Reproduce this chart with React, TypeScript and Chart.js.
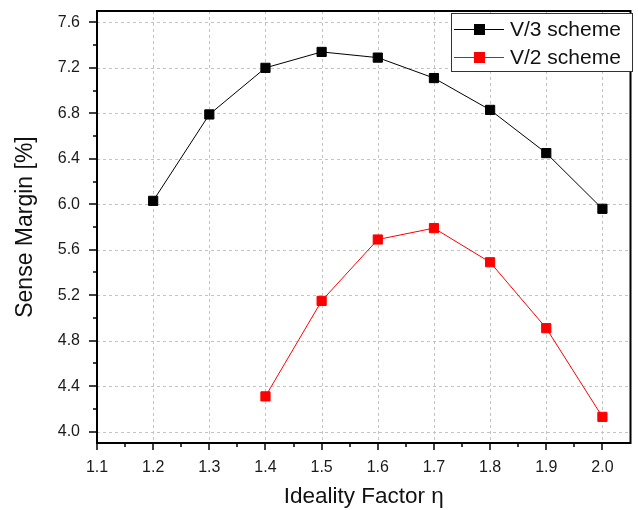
import React, { useEffect, useRef } from 'react';
import Chart from 'chart.js/auto';

const etaValues = [1.2, 1.3, 1.4, 1.5, 1.6, 1.7, 1.8, 1.9, 2.0];
const v3SchemeValues = [6.03, 6.79, 7.2, 7.34, 7.29, 7.11, 6.83, 6.45, 5.96];
const v2SchemeValues = [null, null, 4.31, 5.15, 5.69, 5.79, 5.49, 4.91, 4.13];
const seriesLabels = ['V/3 scheme', 'V/2 scheme'];
const seriesColors = ['#000000', '#ff0000'];
const xTickValues = [1.1, 1.2, 1.3, 1.4, 1.5, 1.6, 1.7, 1.8, 1.9, 2.0];
const yTickValues = [4.0, 4.4, 4.8, 5.2, 5.6, 6.0, 6.4, 6.8, 7.2, 7.6];
const xMinorValues = [1.15, 1.25, 1.35, 1.45, 1.55, 1.65, 1.75, 1.85, 1.95];
const yMinorValues = [4.2, 4.6, 5.0, 5.4, 5.8, 6.2, 6.6, 7.0, 7.4];

const FONT = 'Arial, "Liberation Sans", sans-serif';

const framePlugin = {
  id: 'frame',
  beforeDatasetsDraw(chart: any) {
    const { ctx, chartArea: a, scales } = chart;
    ctx.save();
    ctx.strokeStyle = '#c4c4c4';
    ctx.lineWidth = 1;
    ctx.setLineDash([3, 3]);
    xTickValues.forEach((v) => {
      const px = Math.round(scales.x.getPixelForValue(v)) + 0.5;
      if (px <= a.left + 1) return;
      ctx.beginPath();
      ctx.moveTo(px, a.top);
      ctx.lineTo(px, a.bottom);
      ctx.stroke();
    });
    yTickValues.forEach((v) => {
      const py = Math.round(scales.y.getPixelForValue(v)) + 0.5;
      ctx.beginPath();
      ctx.moveTo(a.left, py);
      ctx.lineTo(a.right, py);
      ctx.stroke();
    });
    ctx.restore();
  },
  afterDatasetsDraw(chart: any) {
    const { ctx, chartArea: a, scales } = chart;
    ctx.save();
    ctx.setLineDash([]);
    ctx.strokeStyle = '#000';
    ctx.lineWidth = 2;
    ctx.strokeRect(a.left, a.top, a.right - a.left, a.bottom - a.top);
    ctx.lineWidth = 1.5;
    const tickX = (v: number, len: number) => {
      const px = Math.round(scales.x.getPixelForValue(v));
      ctx.beginPath();
      ctx.moveTo(px, a.bottom);
      ctx.lineTo(px, a.bottom + len);
      ctx.stroke();
    };
    const tickY = (v: number, len: number) => {
      const py = Math.round(scales.y.getPixelForValue(v));
      ctx.beginPath();
      ctx.moveTo(a.left, py);
      ctx.lineTo(a.left - len, py);
      ctx.stroke();
    };
    xTickValues.forEach((v) => tickX(v, 7));
    xMinorValues.forEach((v) => tickX(v, 4));
    yTickValues.forEach((v) => tickY(v, 8));
    yMinorValues.forEach((v) => tickY(v, 4));

    // legend
    const bx = 451, by = 13, bw = 181, bh = 58;
    ctx.fillStyle = '#ffffff';
    ctx.fillRect(bx, by, bw, bh);
    ctx.strokeStyle = '#333';
    ctx.lineWidth = 1;
    ctx.strokeRect(bx + 0.5, by + 0.5, bw, bh);
    ctx.font = `21px ${FONT}`;
    ctx.textBaseline = 'middle';
    ctx.textAlign = 'left';
    chart.data.datasets.forEach((ds: any, i: number) => {
      const cy = by + 16 + i * 28;
      ctx.strokeStyle = ds.borderColor;
      ctx.lineWidth = 1;
      ctx.beginPath();
      ctx.moveTo(bx + 3, cy + 0.5);
      ctx.lineTo(bx + 53, cy + 0.5);
      ctx.stroke();
      ctx.fillStyle = ds.backgroundColor;
      ctx.fillRect(bx + 23, cy - 5, 11, 11);
      ctx.fillStyle = '#111';
      ctx.fillText(ds.label, bx + 59, cy + 1);
    });
    ctx.restore();
  },
};

export default function App() {
  const ref = useRef<HTMLCanvasElement | null>(null);
  useEffect(() => {
    document.body.style.margin = '0';
    const canvas = ref.current;
    if (!canvas) return;
    const mk = (vals: (number | null)[], i: number) => ({
      label: seriesLabels[i],
      data: etaValues.map((x, k) => ({ x, y: vals[k] })),
      borderColor: seriesColors[i],
      backgroundColor: seriesColors[i],
      pointBackgroundColor: seriesColors[i],
      pointBorderColor: seriesColors[i],
      borderWidth: 1,
      pointStyle: 'rect',
      pointRadius: 6.5,
      pointBorderWidth: 1,
      tension: 0,
      spanGaps: false,
    });
    const chart = new Chart(canvas, {
      type: 'line',
      data: { datasets: [mk(v3SchemeValues, 0), mk(v2SchemeValues, 1)] as any },
      options: {
        animation: false,
        responsive: true,
        maintainAspectRatio: false,
        layout: { padding: { top: 11, right: 5, left: 12, bottom: 0 } },
        plugins: { legend: { display: false }, tooltip: { enabled: false } },
        scales: {
          x: {
            type: 'linear',
            min: 1.1,
            max: 2.05,
            afterBuildTicks: (s: any) => {
              s.ticks = xTickValues.map((v) => ({ value: v }));
            },
            afterFit: (s: any) => {
              s.height = 67;
              s.paddingLeft = 0;
              s.paddingRight = 0;
            },
            grid: { display: false, drawTicks: false },
            border: { display: false },
            ticks: {
              autoSkip: false,
              maxRotation: 0,
              padding: 15,
              color: '#1a1a1a',
              font: { family: FONT, size: 16 },
              callback: (v: any) => Number(v).toFixed(1),
            },
            title: {
              display: true,
              text: 'Ideality Factor η',
              color: '#111',
              font: { family: FONT, size: 22.5 },
              padding: 0,
            },
          },
          y: {
            type: 'linear',
            min: 3.9,
            max: 7.7,
            afterBuildTicks: (s: any) => {
              s.ticks = yTickValues.map((v) => ({ value: v }));
            },
            afterFit: (s: any) => {
              s.width = 85;
              s.paddingTop = 0;
              s.paddingBottom = 0;
            },
            grid: { display: false, drawTicks: false },
            border: { display: false },
            ticks: {
              autoSkip: false,
              padding: 17,
              color: '#1a1a1a',
              font: { family: FONT, size: 16 },
              callback: (v: any) => Number(v).toFixed(1),
            },
            title: {
              display: true,
              text: 'Sense Margin [%]',
              color: '#111',
              font: { family: FONT, size: 23 },
              padding: 0,
            },
          },
        },
      },
      plugins: [framePlugin],
    } as any);
    return () => chart.destroy();
  }, []);
  return (
    <div style={{ position: 'relative', width: 638, height: 510 }}>
      <canvas ref={ref} />
    </div>
  );
}
